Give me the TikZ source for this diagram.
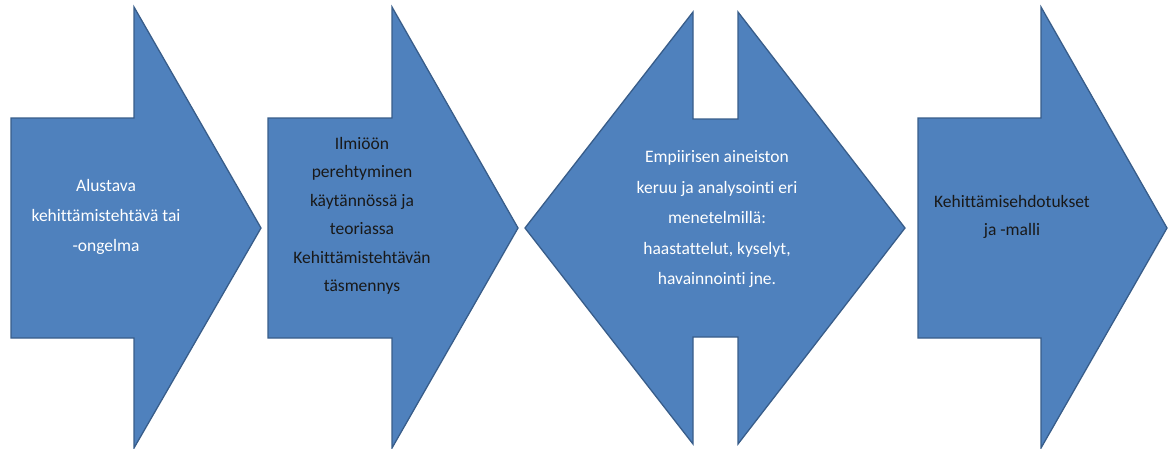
\documentclass[tikz,border=0pt]{standalone}
\usepackage{fontspec}
\setmainfont[Ligatures=NoCommon]{Carlito}
\definecolor{shapefill}{HTML}{4F81BD}
\definecolor{shapeline}{HTML}{385D8A}
\begin{document}
\begin{tikzpicture}[x=1pt,y=-1pt,
  blockarrow/.style={fill=shapefill,draw=shapeline,line width=1.3pt,line join=miter},
  label/.style={align=center,font=\fontsize{17.5}{29}\selectfont,inner sep=0pt},
  lightlabel/.style={label,text=white},
  darklabel/.style={label,text=black!90}]
\useasboundingbox (0,0) rectangle (1173,448);

% step 1: right arrow
\draw[blockarrow] (11,118) -- (134,118) -- (134,7) -- (261,228) -- (134,448)
  -- (134,338) -- (11,338) -- cycle;
% step 2: right arrow
\draw[blockarrow] (268,118) -- (392,118) -- (392,7) -- (518,228) -- (392,448)
  -- (392,338) -- (268,338) -- cycle;
% step 3: left-right arrow with a short shaft
\draw[blockarrow] (525,228) -- (693,12) -- (693,119) -- (738,119) -- (738,12)
  -- (905,228) -- (738,444) -- (738,337) -- (693,337) -- (693,444) -- cycle;
% step 4: right arrow
\draw[blockarrow] (918,118) -- (1041,118) -- (1041,7) -- (1167,228) -- (1041,448)
  -- (1041,338) -- (918,338) -- cycle;

\node[lightlabel,font=\fontsize{17.5}{30}\selectfont] (t1) at (106,217) {Alustava\\kehittämistehtävä tai\\-ongelma};
\node[darklabel,font=\fontsize{17.5}{28.5}\selectfont] (t2) at (362,216) {Ilmiöön\\perehtyminen\\käytännössä ja\\teoriassa\\Kehittämistehtävän\\täsmennys};
\node[lightlabel,font=\fontsize{17.5}{30.5}\selectfont] (t3) at (717,219) {Empiirisen aineiston\\keruu ja analysointi eri\\menetelmillä:\\haastattelut, kyselyt,\\havainnointi jne.};
\node[darklabel,font=\fontsize{17.5}{27.5}\selectfont] (t4) at (1012,217) {Kehittämisehdotukset\\ja -malli};
\end{tikzpicture}
\end{document}
